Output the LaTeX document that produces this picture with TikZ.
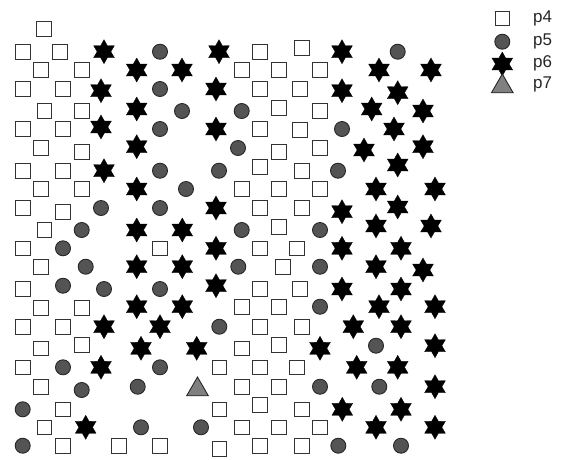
\documentclass[tikz,border=0pt]{standalone}
\usepackage{fontspec}
\setmainfont{Liberation Sans}
\usetikzlibrary{shapes.geometric}
\begin{document}
\begin{tikzpicture}[x=1pt,y=-1pt,
  sq/.style={rectangle,draw=black!80,fill=white,line width=0.9pt,minimum size=14.5pt,inner sep=0pt},
  ci/.style={circle,draw=black!85,fill=black!67,line width=0.9pt,minimum size=15pt,inner sep=0pt},
  st/.style={star,star points=6,star point ratio=1.75,fill=black,draw=black,line width=0.3pt,minimum size=24pt,inner sep=0pt},
  tri/.style={regular polygon,regular polygon sides=3,draw=black!85,fill=black!50,line width=0.9pt,minimum size=25pt,inner sep=0pt},
  lab/.style={anchor=west,inner sep=0pt,font=\fontsize{17}{20}\selectfont,text=black!85}]
\useasboundingbox (0,0) rectangle (567,459);
% squares p4
\foreach \x/\y [count=\i] in {
 44/29,
 22.7/51.7, 60/51.7, 260/51.7, 301.7/48,
 41/70, 81.7/70, 241.7/70, 279/70, 320/70,
 22.7/89, 63/89, 260/89, 300/89,
 44.3/111, 81.7/111, 279/107.7, 320/111,
 22.7/129, 63/129, 260/129, 300/130,
 41/148, 81.7/151.7, 279/151.7, 320/148,
 22.7/170.7, 63/170.7, 260/167, 301.7/170.7,
 41/189, 81.7/189, 241.7/189, 279/189, 320/189,
 22.7/208, 63/211.7, 260/208, 301.7/208,
 44.3/230, 279/226.7,
 22.7/248.3, 160/248.3, 260/248.3, 296.7/248.3,
 41/266.7, 282.7/266.7,
 22.7/289, 260/289, 300/289,
 41/308, 81.7/308, 241.7/306.7, 279/306.7,
 22.7/326.7, 63/326.7, 260/326.7, 301.7/326.7,
 41/348.3, 81.7/345, 241.7/348.3, 279/345,
 22.7/367.3, 219.3/367.3, 260/367.3, 296.7/367.3,
 41/386.7, 241.7/386.7, 279/386.7,
 63/409.3, 219.3/409.3, 260/405, 301.7/409.3,
 44.3/427.3, 241.7/427.3, 279/427.3, 320/427.3,
 63/445.7, 119/445.7, 160/445.7, 219.3/449, 260/445.7, 301.7/445.7}
 \node[sq] (s\i) at (\x,\y) {};
% circles p5
\foreach \x/\y [count=\i] in {
 160/51.7, 397.7/51.7,
 160/89,
 182/111, 241.7/111,
 160/129, 342/129,
 238/148,
 160/170.7, 219/170.7, 338/170.7,
 186/189,
 101/208, 160/208,
 81.7/230, 241.7/230, 320/230,
 63/248.3,
 85.7/266.7, 238.3/266.7, 320/266.7,
 63/285.7, 104/289, 160/289,
 320/306.7,
 219.3/326.7,
 376/345.7,
 63/367.3, 160/367.3,
 81.7/390, 137.7/386.7, 320/386.7, 379.3/386.7,
 22.7/409.3,
 141/427.3, 201/427.3,
 22.7/445.7, 338.3/445.7, 401/445.7}
 \node[ci] (c\i) at (\x,\y) {};
% stars p6
\foreach \x/\y [count=\i] in {
 104/51.7, 219/51.7, 342/51.7,
 136.7/70, 182/70, 379/70, 431/70,
 101/90.7, 216/89, 342/90.7, 397.7/92.7,
 136.7/109, 371.7/109, 423/111,
 101/127, 216/129, 394/129,
 136.7/146.7, 364/150, 423/146.7,
 104/170.7, 397.7/165,
 136.7/189, 376/189, 435/189,
 216/208, 342/211.7, 397.7/207,
 136.7/230, 182.3/230, 376/226, 431/226,
 216/248.3, 342/248.3, 401/248.3,
 136.7/266.7, 182.3/266.7, 376/266.7, 423/270,
 216/285.7, 342/289, 401/289,
 136.7/306.7, 182.3/306.7, 379/306.7, 435/306.7,
 104/326.7, 160/326.7, 353.3/326.7, 401/326.7,
 141/348.3, 196.7/348.3, 320/348.3, 435/345.7,
 101/367.3, 356.7/367.3, 397.7/367.3,
 435/386.7,
 342.3/409.3, 401/409.3,
 85.7/427.3, 376/427.3, 435/427.3}
 \node[st] (t\i) at (\x,\y) {};
% triangle p7
\node[tri] (tr1) at (197.5,389.5) {};
% legend
\node[sq] (ls) at (502.3,18.3) {};
\node[ci] (lc) at (502.3,41.7) {};
\node[st] (lt) at (502.3,64) {};
\node[tri] (ltr) at (502.3,86.5) {};
\node[lab] (l4) at (533,18.3) {p4};
\node[lab] (l5) at (533,41.7) {p5};
\node[lab] (l6) at (533,63.5) {p6};
\node[lab] (l7) at (533,84.5) {p7};
\end{tikzpicture}
\end{document}
